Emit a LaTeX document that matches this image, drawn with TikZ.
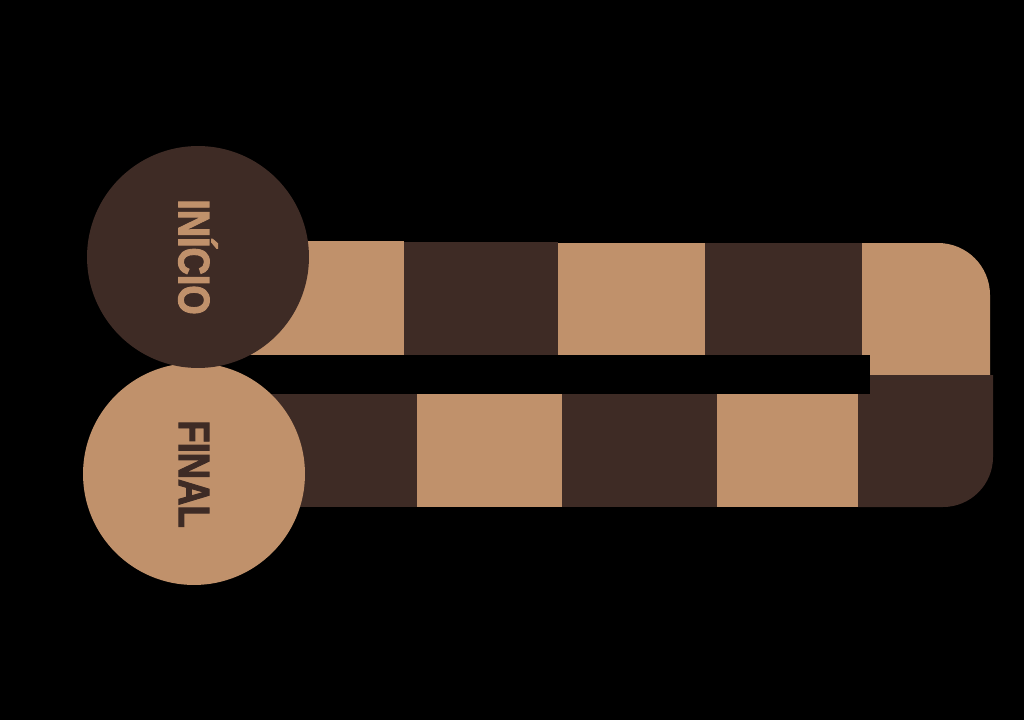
\documentclass[tikz,border=0pt]{standalone}
\usepackage{fontspec}
\setmainfont{Liberation Sans}
\newfontfamily\boardfont[BoldFeatures={FakeBold=2.5}]{Liberation Sans}
\usepackage{tikz}
\usetikzlibrary{positioning}
\usepackage{xcolor}
\definecolor{boardbg}{HTML}{000000}
\definecolor{boarddark}{HTML}{3E2B25}
\definecolor{boardlight}{HTML}{C0916B}

\begin{document}
\begin{tikzpicture}[x=0.02cm, y=-0.02cm,
    dark/.style={fill=boarddark},
    light/.style={fill=boardlight},
    endpoint/.style={circle, minimum size=4.44cm, inner sep=0pt, rotate=-90,
                     font=\boardfont\fontsize{25}{30}\selectfont\bfseries}]
    \fill[boardbg] (0,0) rectangle (1024,720);
    \useasboundingbox (0,0) rectangle (1024,720);
    \fill[light] (250,241) rectangle (404,355);
    \fill[dark]  (404,242) rectangle (558,355);
    \fill[light] (558,243) rectangle (705,356);
    \fill[dark]  (705,243) rectangle (862,356);
    \fill[light] (862,375) -- (862,243) [rounded corners=1.04cm] -- (990,243) [sharp corners] -- (990,375) -- cycle;
    \fill[dark]  (250,394) rectangle (417,507);
    \fill[light] (417,394) rectangle (562,507);
    \fill[dark]  (562,394) rectangle (717,507);
    \fill[light] (717,394) rectangle (858,507);
    \fill[dark]  (858,375) -- (993,375) [rounded corners=1.0cm] -- (993,507) [sharp corners] -- (858,507) -- cycle;
    \fill[boardbg] (250,355) rectangle (870,394);
    \node[endpoint, light, text=boarddark] (final) at (194,474) {\scalebox{0.83}[1]{FINAL}};
    \node[endpoint, dark, text=boardlight] (inicio) at (198,257) {\scalebox{0.86}[1]{INÍCIO}};
\end{tikzpicture}
\end{document}
